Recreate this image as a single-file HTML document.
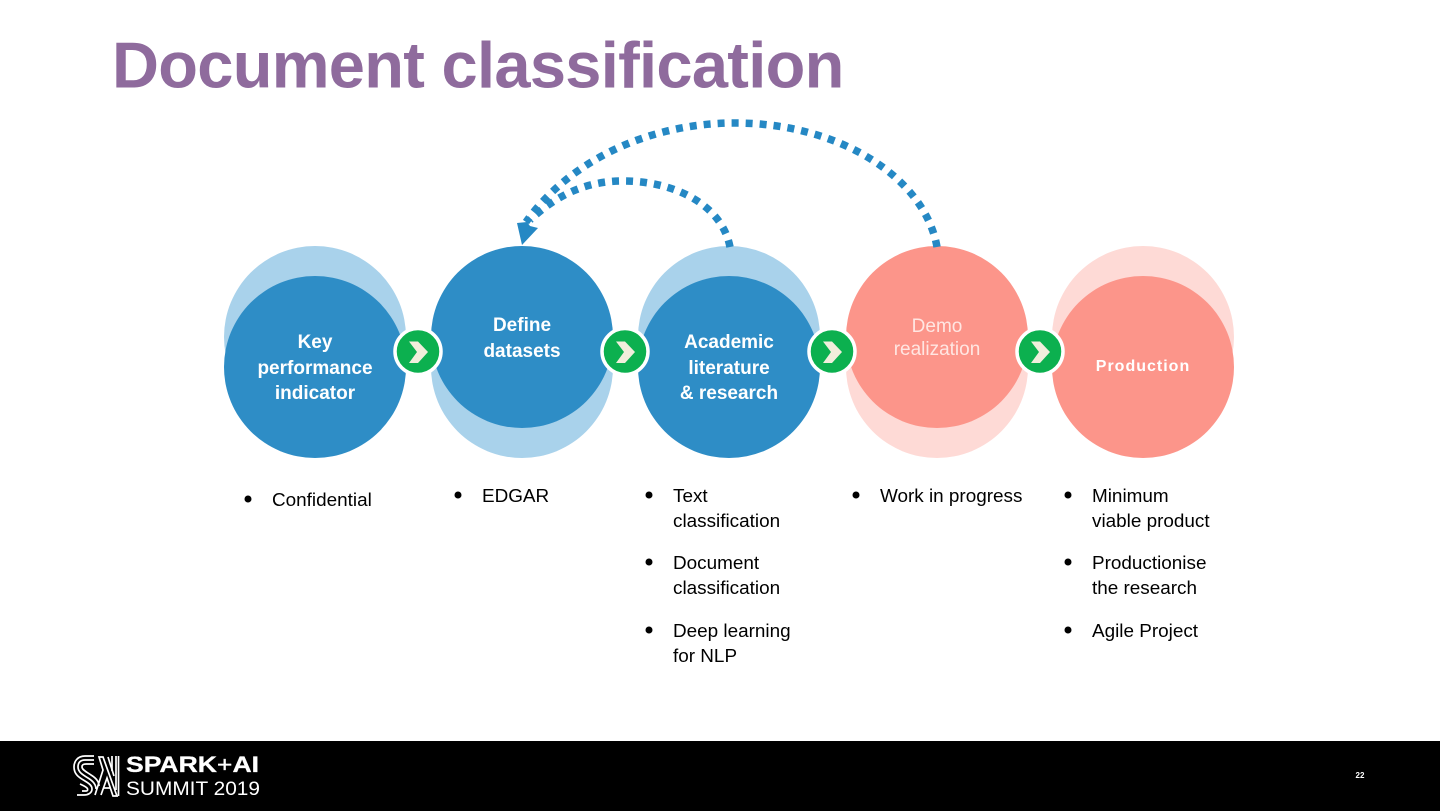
<!DOCTYPE html>
<html>
<head>
<meta charset="utf-8">
<title>Document classification</title>
<style>
html,body{margin:0;padding:0;background:#fff;width:1440px;height:811px;overflow:hidden}
svg{display:block}
text{font-family:"Liberation Sans",sans-serif}
.c{fill:#fff;text-anchor:middle;font-size:19px;font-weight:700}
.b{fill:#000;font-size:18.9px}
</style>
</head>
<body>
<svg width="1440" height="811" viewBox="0 0 1440 811" xmlns="http://www.w3.org/2000/svg">
<rect width="1440" height="811" fill="#fff"/>
<text x="112" y="87.5" font-size="65" font-weight="700" fill="#8F6B9D" letter-spacing="-0.7">Document classification</text>

<circle cx="315" cy="337" r="91" fill="#A9D2EB"/>
<circle cx="315" cy="367" r="91" fill="#2E8DC6"/>
<circle cx="522" cy="367" r="91" fill="#A9D2EB"/>
<circle cx="522" cy="337" r="91" fill="#2E8DC6"/>
<circle cx="729" cy="337" r="91" fill="#A9D2EB"/>
<circle cx="729" cy="367" r="91" fill="#2E8DC6"/>
<circle cx="937" cy="367" r="91" fill="#FEDAD6"/>
<circle cx="937" cy="337" r="91" fill="#FC958A"/>
<circle cx="1143" cy="337" r="91" fill="#FEDAD6"/>
<circle cx="1143" cy="367" r="91" fill="#FC958A"/>

<g fill="none" stroke="#2588C4" stroke-width="7.5" stroke-dasharray="7 7">
<path d="M937,247 C925,178 840,123 735,123 C650,123 570,160 526,222"/>
<path d="M730,247 C722,205 675,181 623,181 C590,181 560,192 530,220"/>
</g>
<polygon points="522,245 517,223 527,222 530,226 538,228" fill="#2588C4"/>

<text class="c" x="315" y="348">Key</text>
<text class="c" x="315" y="374">performance</text>
<text class="c" x="315" y="399">indicator</text>
<text class="c" x="522" y="331">Define</text>
<text class="c" x="522" y="357">datasets</text>
<text class="c" x="729" y="348">Academic</text>
<text class="c" x="729" y="374">literature</text>
<text class="c" x="729" y="399">&amp; research</text>
<text class="c" x="937" y="332" style="font-weight:400;fill:#FFE6E2">Demo</text>
<text class="c" x="937" y="355" style="font-weight:400;fill:#FFE6E2">realization</text>
<text class="c" x="1143" y="371" style="font-size:16px;letter-spacing:1px">Production</text>

<g stroke="#fff" stroke-width="3.5" fill="#0CB04F">
<circle cx="418" cy="351.5" r="23"/>
<circle cx="625" cy="351.5" r="23"/>
<circle cx="832" cy="351.5" r="23"/>
<circle cx="1040" cy="351.5" r="23"/>
</g>
<g fill="#F1EEDC">
<polygon points="409,341.5 418,341.5 428,352 418,363 409,363 417,352"/>
<polygon points="616,341.5 625,341.5 635,352 625,363 616,363 624,352"/>
<polygon points="823,341.5 832,341.5 842,352 832,363 823,363 831,352"/>
<polygon points="1031,341.5 1040,341.5 1050,352 1040,363 1031,363 1039,352"/>
</g>

<g fill="#000">
<circle cx="248" cy="499" r="3.5"/>
<circle cx="458" cy="495" r="3.5"/>
<circle cx="649" cy="495" r="3.5"/>
<circle cx="649" cy="562" r="3.5"/>
<circle cx="649" cy="630" r="3.5"/>
<circle cx="856" cy="495" r="3.5"/>
<circle cx="1068" cy="495" r="3.5"/>
<circle cx="1068" cy="562" r="3.5"/>
<circle cx="1068" cy="630" r="3.5"/>
</g>
<text class="b" x="272" y="506">Confidential</text>
<text class="b" x="482" y="502">EDGAR</text>
<text class="b" x="673" y="502">Text</text>
<text class="b" x="673" y="527">classification</text>
<text class="b" x="673" y="569">Document</text>
<text class="b" x="673" y="594">classification</text>
<text class="b" x="673" y="637">Deep learning</text>
<text class="b" x="673" y="662">for NLP</text>
<text class="b" x="880" y="502">Work in progress</text>
<text class="b" x="1092" y="502">Minimum</text>
<text class="b" x="1092" y="527">viable product</text>
<text class="b" x="1092" y="569">Productionise</text>
<text class="b" x="1092" y="594">the research</text>
<text class="b" x="1092" y="637">Agile Project</text>

<rect x="0" y="741" width="1440" height="70" fill="#000"/>
<g fill="none" stroke="#fff" stroke-width="1.7">
<path d="M94,756 L85,756 C77,756 74,762 74,767 C74,775 80,778 85,781 C90,784 92,786 92,789 C92,793 88,795 84,795 L77,795"/>
<path d="M94,760 L85,760 C80,760 78,763 78,767 C78,772 83,775 88,778 C93,781 96,785 96,789"/>
<path d="M94,764 L86,764 C83,764 82,765 82,767 C82,770 87,772 91,775 C96,778 99,782 99,786"/>
<path d="M82,791 L86,791 C88,791 88,789 87,788 C85,786 82,785 80,784"/>
<path d="M95,795 L103,770 L99,757 L103,757 L117,796 L113,796 L107,778 L101,795"/>
<path d="M104,788 L110,788"/>
<path d="M108,757 L114,776"/>
<path d="M112,756 L112,771 M116,756 L116,790 M118.5,756 L118.5,796"/>
</g>
<text x="126" y="772" font-size="22" font-weight="700" fill="#fff" stroke="#fff" stroke-width="0.3" textLength="133" lengthAdjust="spacingAndGlyphs">SPARK<tspan font-weight="400">+</tspan>AI</text>
<text x="126" y="795" font-size="19.5" fill="#fff" textLength="134" lengthAdjust="spacingAndGlyphs">SUMMIT 2019</text>
<text x="1360" y="778" font-size="8" font-weight="700" fill="#fff" text-anchor="middle">22</text>
</svg>
</body>
</html>
